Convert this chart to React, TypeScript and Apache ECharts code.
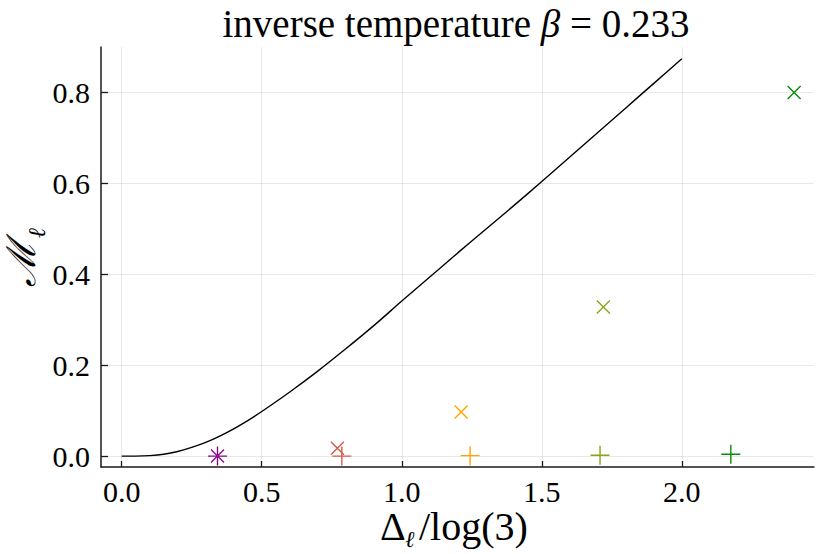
import React, { useEffect, useRef } from 'react';
import * as echarts from 'echarts';

// ---- data ----
const curveX = [0, 0.05, 0.1, 0.15, 0.2, 0.25, 0.3, 0.35, 0.4, 0.45, 0.5, 0.6, 0.7, 0.8, 0.9, 1.0, 1.1, 1.2, 1.3, 1.4, 1.5, 1.6, 1.7, 1.8, 1.9, 2.0];
const curveY = [0, 0, 0.001, 0.004, 0.010, 0.019, 0.030, 0.044, 0.060, 0.078, 0.098, 0.141, 0.187, 0.236, 0.287, 0.341, 0.394, 0.447, 0.499, 0.551, 0.604, 0.658, 0.712, 0.766, 0.820, 0.874];

const crossX = [0.342, 0.770, 1.212, 1.720, 2.401];
const crossY = [0.000, 0.017, 0.097, 0.328, 0.800];
const plusX = [0.342, 0.786, 1.244, 1.708, 2.175];
const plusY = [0.000, 0.000, 0.001, 0.002, 0.004];
const markerColors = ['#8B0A8B', '#D65A46', '#FFA500', '#8FA11A', '#0A8A0A'];

const xTicks = [0, 0.5, 1.0, 1.5, 2.0];
const yTicks = [0, 0.2, 0.4, 0.6, 0.8];

const titleMain = 'inverse temperature ';
const titleSymbol = 'β';
const titleValue = ' = 0.233';

const FONT = 'Liberation Serif, Times New Roman, serif';

const crossSymbol = 'path://M0,0L10,10M10,0L0,10';
const plusSymbol = 'path://M5,0L5,10M0,5L10,5';

function isTick(v: number, ticks: number[]) {
  return ticks.some((t) => Math.abs(t - v) < 1e-6);
}

export default function App() {
  const ref = useRef<HTMLDivElement>(null);

  useEffect(() => {
    if (!ref.current) return;
    const chart = echarts.init(ref.current, null, { renderer: 'svg' });

    const axisCommon = {
      axisLine: { show: true, onZero: false, lineStyle: { color: '#1a1a1a', width: 1.5 } },
      splitLine: { show: true, lineStyle: { color: 'rgba(0,0,0,0.09)', width: 1 } },
    };

    const option: any = {
      animation: false,
      textStyle: { fontFamily: FONT },
      grid: { left: 101, right: 16, top: 47, bottom: 87, containLabel: false },
      xAxis: {
        type: 'value',
        min: -0.074,
        max: 2.472,
        ...axisCommon,
        axisTick: { show: true, inside: true, length: 6, customValues: xTicks, lineStyle: { color: '#1a1a1a', width: 1.3 } },
        axisLabel: {
          customValues: xTicks,
          margin: 9,
          fontFamily: FONT,
          fontSize: 30,
          color: '#000',
          formatter: (v: number) => (isTick(v, xTicks) ? v.toFixed(1) : ''),
        },
      },
      yAxis: {
        type: 'value',
        min: -0.024,
        max: 0.9,
        ...axisCommon,
        axisTick: { show: true, inside: true, length: 7, customValues: yTicks, lineStyle: { color: '#1a1a1a', width: 1.3 } },
        axisLabel: {
          customValues: yTicks,
          margin: 11,
          fontFamily: FONT,
          fontSize: 30,
          color: '#000',
          formatter: (v: number) => (isTick(v, yTicks) ? v.toFixed(1) : ''),
        },
      },
      series: [
        {
          type: 'line',
          data: curveX.map((x, i) => [x, curveY[i]]),
          showSymbol: false,
          smooth: 0.3,
          lineStyle: { color: '#000', width: 1.4 },
          z: 3,
        },
        {
          type: 'scatter',
          symbol: crossSymbol,
          symbolSize: 13,
          data: crossX.map((x, i) => ({
            value: [x, crossY[i]],
            itemStyle: { color: markerColors[i], borderColor: markerColors[i], borderWidth: 1.4, opacity: 1 },
          })),
          z: 4,
        },
        {
          type: 'scatter',
          symbol: plusSymbol,
          symbolSize: 19,
          data: plusX.map((x, i) => ({
            value: [x, plusY[i]],
            itemStyle: { color: markerColors[i], borderColor: markerColors[i], borderWidth: 1.4, opacity: 1 },
          })),
          z: 4,
        },
      ],
      graphic: [
        {
          type: 'text',
          x: 456,
          y: 23,
          style: {
            text: `{n|${titleMain}}{b|${titleSymbol}}{n|${titleValue}}`,
            align: 'center',
            verticalAlign: 'middle',
            fill: '#000',
            rich: {
              n: { fontFamily: FONT, fontSize: 39, fill: '#000' },
              b: { fontFamily: FONT, fontSize: 39, fontStyle: 'italic', fill: '#000' },
            },
          },
        },
        {
          type: 'group',
          x: 21,
          y: 264,
          rotation: Math.PI / 2,
          children: [
            {
              type: 'text',
              x: 0,
              y: 0,
              style: { text: 'ℳ', fontFamily: FONT, fontSize: 40, fontStyle: 'italic', fill: '#000', align: 'center', verticalAlign: 'middle' },
            },
            {
              type: 'text',
              x: 31,
              y: 16,
              style: { text: 'ℓ', fontFamily: FONT, fontSize: 24, fontStyle: 'italic', fill: '#000', align: 'center', verticalAlign: 'middle' },
            },
          ],
        },
        {
          type: 'group',
          x: 0,
          y: 0,
          children: [
            {
              type: 'text',
              x: 380,
              y: 526,
              style: { text: 'Δ', fontFamily: FONT, fontSize: 40, fill: '#000', align: 'left', verticalAlign: 'middle' },
            },
            {
              type: 'text',
              x: 405,
              y: 539,
              style: { text: 'ℓ', fontFamily: FONT, fontSize: 23, fontStyle: 'italic', fill: '#000', align: 'left', verticalAlign: 'middle' },
            },
            {
              type: 'text',
              x: 419,
              y: 526,
              style: { text: '/log(3)', fontFamily: FONT, fontSize: 40, fill: '#000', align: 'left', verticalAlign: 'middle' },
            },
          ],
        },
      ],
    };

    chart.setOption(option);
    return () => chart.dispose();
  }, []);

  return (
    <div
      ref={ref}
      style={{ position: 'absolute', left: 0, top: 0, width: 830, height: 554, background: '#fff' }}
    />
  );
}
